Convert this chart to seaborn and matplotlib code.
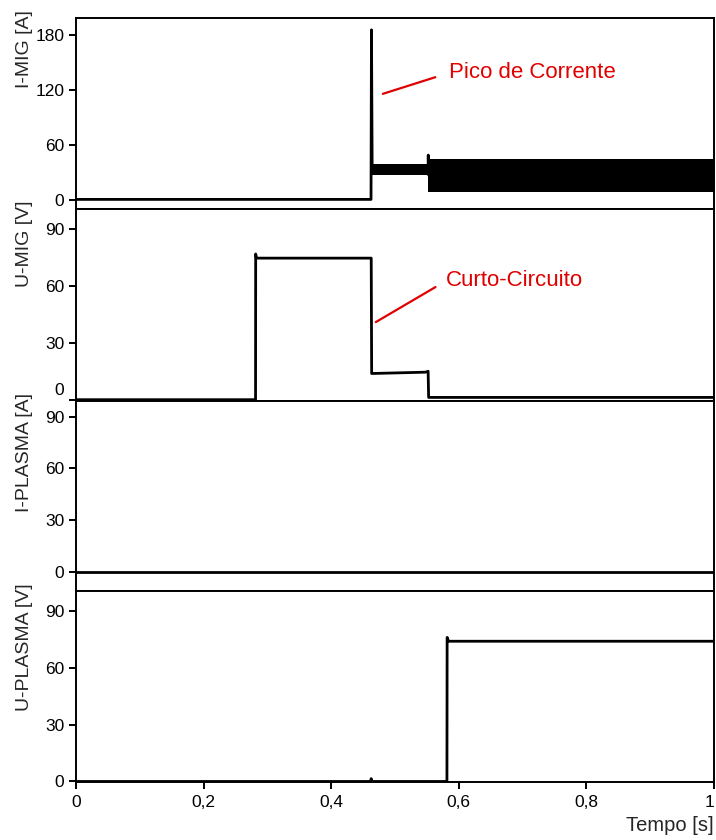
import numpy as np
import pandas as pd
import matplotlib.pyplot as plt
import matplotlib.transforms as mtransforms
import seaborn as sns

sns.set_theme(style='ticks')
plt.rcParams['font.family'] = ['Liberation Sans', 'DejaVu Sans']

# --- Traces (time in s) ---
t_imig = [0, 0.4625, 0.4632, 0.4643, 0.552, 0.5522, 0.5528]
v_imig = [0.5, 0.5, 186, 33, 33, 49, 27]
# noisy envelope of I-MIG after the peak
band_t = [0.4643, 0.552, 0.552, 1.0]
band_lo = [27, 27, 9, 9]
band_hi = [39, 39, 45, 45]

t_umig = [0, 0.2815, 0.2817, 0.283, 0.4628, 0.4635, 0.548, 0.552, 0.5528, 1.0]
v_umig = [0, 0, 76.8, 74.6, 74.6, 13.8, 14.5, 15, 1.2, 1.2]

t_iplasma = [0, 1.0]
v_iplasma = [0, 0]

t_uplasma = [0, 0.4625, 0.4627, 0.4632, 0.5815, 0.5818, 0.584, 1.0]
v_uplasma = [0, 0, 1.5, 0, 0, 76, 74, 74]

panels = [
    ('I-MIG [A]', t_imig, v_imig, (-10, 199), [0, 60, 120, 180]),
    ('U-MIG [V]', t_umig, v_umig, (-0.7, 100.5), [0, 30, 60, 90]),
    ('I-PLASMA [A]', t_iplasma, v_iplasma, (-11, 99), [0, 30, 60, 90]),
    ('U-PLASMA [V]', t_uplasma, v_uplasma, (-0.3, 100.5), [0, 30, 60, 90]),
]
xticks = [0, 0.2, 0.4, 0.6, 0.8, 1.0]
xticklabels = ['0', '0,2', '0,4', '0,6', '0,8', '1']

fig = plt.figure(figsize=(7.16, 8.4), dpi=100)
rects = [
    [0.1061, 0.7512, 0.891, 0.2274],
    [0.1061, 0.5226, 0.891, 0.2286],
    [0.1061, 0.2964, 0.891, 0.2262],
    [0.1061, 0.0690, 0.891, 0.2274],
]
axes = []
for rect, (label, t, v, ylim, yt) in zip(rects, panels):
    ax = fig.add_axes(rect)
    df = pd.DataFrame({'t': t, 'v': v})
    sns.lineplot(data=df, x='t', y='v', ax=ax, color='black', lw=2,
                 estimator=None, sort=False)
    ax.set_xlim(0, 1)
    ax.set_ylim(*ylim)
    ax.set_yticks(yt, labels=[str(y) for y in yt])
    ax.set_ylabel(label, fontsize=14, loc='top')
    ax.yaxis.set_label_coords(-0.067, 1.042)
    ax.set_xlabel('')
    for s in ax.spines.values():
        s.set_linewidth(1.4)
        s.set_color('black')
    ax.tick_params(axis='y', direction='out', length=5, width=1.4,
                   labelsize=12.5, pad=3.5, colors='black')
    ax.tick_params(axis='x', bottom=False, labelbottom=False)
    axes.append(ax)

ax1, ax2, ax3, ax4 = axes
ax1.fill_between(band_t, band_lo, band_hi, color='black', lw=0)

# bottom axis
ax4.set_xticks(xticks, labels=xticklabels)
ax4.tick_params(axis='x', bottom=True, labelbottom=True, direction='out',
                length=5, width=1.4, labelsize=12.5, pad=4, colors='black')
ax4.set_xlabel('Tempo [s]', fontsize=14.5, loc='right', labelpad=5)
# keep the last tick label inside the figure
ax4.xaxis.get_major_ticks()[-1].label1.set_horizontalalignment('right')

# the "0" of U-MIG sits a little higher in the original
lbl = ax2.yaxis.get_major_ticks()[0].label1
lbl.set_transform(lbl.get_transform() +
                  mtransforms.ScaledTranslation(0, 0.11, fig.dpi_scale_trans))

red = '#e00000'
ax1.annotate('Pico de Corrente', xy=(0.481, 116), xytext=(0.585, 139),
             ha='left', va='center', fontsize=16, color=red,
             arrowprops=dict(arrowstyle='-', color=red, lw=1.6,
                             relpos=(0, 0.5), shrinkA=8, shrinkB=0))
ax2.annotate('Curto-Circuito', xy=(0.470, 40.9), xytext=(0.580, 62.6),
             ha='left', va='center', fontsize=16, color=red,
             arrowprops=dict(arrowstyle='-', color=red, lw=1.6,
                             relpos=(0, 0.5), shrinkA=6, shrinkB=0))

plt.savefig('out.png', dpi=100)
